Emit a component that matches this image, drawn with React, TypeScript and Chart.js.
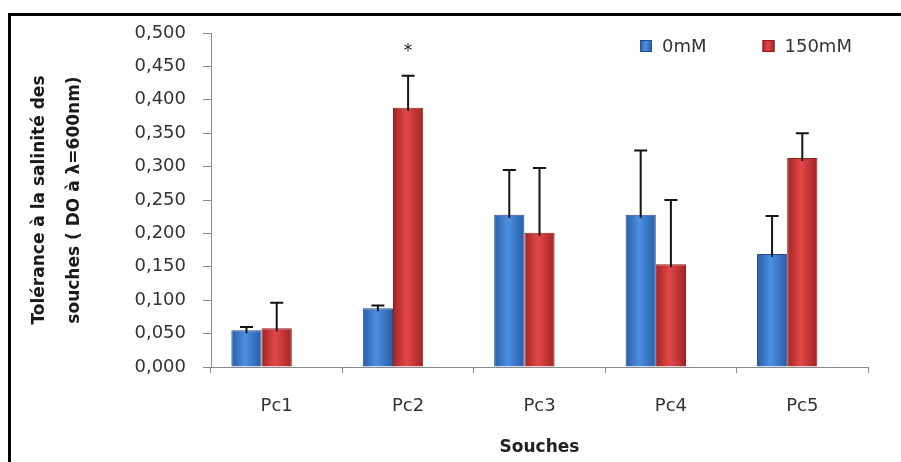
import { useEffect, useRef } from "react";
import { Chart, registerables } from "chart.js";

Chart.register(...registerables);

const categories = ["Pc1", "Pc2", "Pc3", "Pc4", "Pc5"];
const seriesLabels = ["0mM", "150mM"];
const values0mM = [0.055, 0.088, 0.228, 0.228, 0.169];
const values150mM = [0.058, 0.388, 0.201, 0.154, 0.313];
const errors0mM = [0.005, 0.004, 0.067, 0.096, 0.057];
const errors150mM = [0.038, 0.048, 0.097, 0.096, 0.037];
const significance150mM = ["", "*", "", "", ""];
const yMin = 0;
const yMax = 0.5;
const yStep = 0.05;
const yTitle = ["Tolérance à la salinité des", "souches ( DO à λ=600nm)"];
const xTitle = "Souches";

const FONT = "'DejaVu Sans', sans-serif";

const palettes = [
  { edge: "#2a5da6", mid: "#4b8fe0", border: "#244f8e" },
  { edge: "#a32424", mid: "#e24848", border: "#8e2020" },
];

function makeGrad(ctx: CanvasRenderingContext2D, x0: number, x1: number, p: { edge: string; mid: string }) {
  const g = ctx.createLinearGradient(x0, 0, x1, 0);
  g.addColorStop(0, p.edge);
  g.addColorStop(0.45, p.mid);
  g.addColorStop(1, p.edge);
  return g;
}

const shadePlugin = {
  id: "shade",
  beforeDatasetsDraw(chart: any) {
    const ctx = chart.ctx;
    chart.data.datasets.forEach((ds: any, di: number) => {
      const p = palettes[di];
      if (!p) return;
      const meta = chart.getDatasetMeta(di);
      meta.data.forEach((el: any) => {
        const { x, width } = el.getProps(["x", "width"], true);
        el.options = Object.assign({}, el.options, {
          backgroundColor: makeGrad(ctx, x - width / 2, x + width / 2, p),
        });
      });
    });
  },
};

const errorPlugin = {
  id: "errorbars",
  afterDatasetsDraw(chart: any) {
    const ctx = chart.ctx;
    const yScale = chart.scales.y;
    chart.data.datasets.forEach((ds: any, di: number) => {
      if (!ds.errors) return;
      const meta = chart.getDatasetMeta(di);
      meta.data.forEach((el: any, i: number) => {
        const v = ds.data[i];
        if (v == null) return;
        const top = yScale.getPixelForValue(v + ds.errors[i]);
        const { x, y } = el.getProps(["x", "y"], true);
        ctx.save();
        ctx.strokeStyle = "#141414";
        ctx.lineWidth = 2;
        ctx.beginPath();
        ctx.moveTo(x, y + 3);
        ctx.lineTo(x, top);
        ctx.moveTo(x - 6.5, top);
        ctx.lineTo(x + 6.5, top);
        ctx.stroke();
        const sig = ds.significance ? ds.significance[i] : "";
        if (sig) {
          ctx.fillStyle = "#222";
          ctx.font = `17px ${FONT}`;
          ctx.textAlign = "center";
          ctx.textBaseline = "middle";
          ctx.fillText(sig, x, top - 24);
        }
        ctx.restore();
      });
    });
  },
};

const legendPlugin = {
  id: "customLegend",
  afterDraw(chart: any) {
    const ctx = chart.ctx;
    ctx.save();
    ctx.font = `18px ${FONT}`;
    ctx.textBaseline = "middle";
    ctx.textAlign = "left";
    let x = 640;
    const yc = 46;
    chart.data.datasets.forEach((ds: any, di: number) => {
      if (!ds.label) return;
      const p = palettes[di];
      ctx.fillStyle = makeGrad(ctx, x, x + 12, p);
      ctx.fillRect(x, yc - 6, 12, 12);
      ctx.strokeStyle = p.border;
      ctx.lineWidth = 1;
      ctx.strokeRect(x + 0.5, yc - 5.5, 11, 11);
      ctx.fillStyle = "#333";
      ctx.fillText(ds.label, x + 22, yc + 1);
      x += 22 + ctx.measureText(ds.label).width + 56;
    });
    ctx.restore();
  },
};

const framePlugin = {
  id: "frame",
  beforeDraw(chart: any) {
    const ctx = chart.ctx;
    ctx.save();
    ctx.fillStyle = "#fff";
    ctx.fillRect(0, 0, chart.width, chart.height);
    ctx.restore();
  },
  afterDraw(chart: any) {
    const ctx = chart.ctx;
    ctx.save();
    ctx.fillStyle = "#000";
    ctx.fillRect(8, 13, chart.width - 8, 3);
    ctx.fillRect(8, 13, 3, chart.height - 13);
    ctx.restore();
  },
};

export default function App() {
  const ref = useRef<HTMLCanvasElement | null>(null);

  useEffect(() => {
    if (!ref.current) return;
    const chart = new Chart(ref.current, {
      type: "bar",
      data: {
        labels: categories,
        datasets: [
          {
            label: seriesLabels[0],
            data: values0mM,
            errors: errors0mM,
            backgroundColor: palettes[0].mid,
            borderColor: palettes[0].border,
            borderWidth: 1,
          } as any,
          {
            label: seriesLabels[1],
            data: values150mM,
            errors: errors150mM,
            significance: significance150mM,
            backgroundColor: palettes[1].mid,
            borderColor: palettes[1].border,
            borderWidth: 1,
          } as any,
          {
            label: "",
            data: [],
            backgroundColor: "rgba(0,0,0,0)",
          } as any,
        ],
      },
      options: {
        responsive: false,
        animation: false,
        devicePixelRatio: 1,
        layout: { padding: { left: 0, right: 33, top: 33, bottom: 0 } },
        datasets: {
          bar: { categoryPercentage: 0.69, barPercentage: 1 },
        },
        plugins: {
          legend: { display: false },
          tooltip: { enabled: false },
        },
        scales: {
          x: {
            grid: {
              display: true,
              drawOnChartArea: false,
              drawTicks: true,
              tickLength: 6,
              color: "#8a8a8a",
            },
            border: { display: true, color: "#8a8a8a", width: 1 },
            ticks: {
              color: "#333",
              font: { family: FONT, size: 18 },
              padding: 23,
            },
            title: {
              display: true,
              text: xTitle,
              color: "#222",
              font: { family: FONT, size: 17, weight: "bold" },
              padding: { top: 0, bottom: 4 },
            },
            afterFit(scale: any) {
              scale.height = 95;
            },
          },
          y: {
            min: yMin,
            max: yMax,
            grid: {
              display: true,
              drawOnChartArea: false,
              drawTicks: true,
              tickLength: 8,
              color: "#8a8a8a",
            },
            border: { display: true, color: "#8a8a8a", width: 1 },
            ticks: {
              stepSize: yStep,
              color: "#333",
              font: { family: FONT, size: 18 },
              padding: 17,
              callback: (v: any) => Number(v).toFixed(3).replace(".", ","),
            },
            title: {
              display: true,
              text: yTitle,
              color: "#1a1a1a",
              font: { family: FONT, size: 17, weight: "bold", lineHeight: 2.06 },
              padding: { top: 22, bottom: 0 },
            },
            afterFit(scale: any) {
              scale.width = 211;
            },
          },
        },
      },
      plugins: [framePlugin, shadePlugin, errorPlugin, legendPlugin],
    } as any);
    return () => chart.destroy();
  }, []);

  return (
    <div style={{ position: "fixed", left: 0, top: 0, width: 901, height: 462, background: "#fff" }}>
      <canvas ref={ref} width={901} height={462} style={{ display: "block" }} />
    </div>
  );
}
